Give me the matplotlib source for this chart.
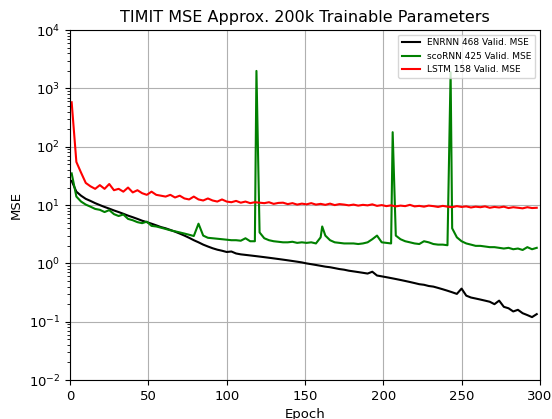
import numpy as np
import matplotlib
matplotlib.use("Agg")
import matplotlib.pyplot as plt

# epochs sampled every 3
epochs = list(range(1, 301, 3))

enrnn = [26, 17, 14.5, 12.8, 11.8, 10.8, 10.0, 9.3, 8.7, 8.1,
         7.6, 7.1, 6.6, 6.2, 5.8, 5.4, 5.1, 4.8, 4.5, 4.2,
         4.0, 3.75, 3.5, 3.25, 3.0, 2.75, 2.5, 2.3, 2.1, 1.95,
         1.82, 1.72, 1.65, 1.57, 1.6, 1.48, 1.43, 1.40, 1.37, 1.34,
         1.31, 1.28, 1.25, 1.22, 1.19, 1.16, 1.13, 1.10, 1.07, 1.04,
         1.0, 0.97, 0.94, 0.91, 0.88, 0.86, 0.83, 0.80, 0.78, 0.75,
         0.73, 0.71, 0.69, 0.67, 0.72, 0.62, 0.60, 0.58, 0.56, 0.54,
         0.52, 0.50, 0.48, 0.46, 0.44, 0.43, 0.41, 0.40, 0.38, 0.36,
         0.34, 0.32, 0.30, 0.37, 0.28, 0.26, 0.25, 0.24, 0.23, 0.22,
         0.20, 0.23, 0.18, 0.17, 0.15, 0.16, 0.14, 0.13, 0.12, 0.135]

scornn = [35, 14, 11.5, 10.2, 9.4, 8.6, 8.3, 7.6, 8.2, 7.0,
          6.5, 6.9, 5.8, 5.5, 5.1, 4.9, 5.2, 4.4, 4.3, 4.1,
          3.9, 3.7, 3.55, 3.4, 3.25, 3.1, 2.95, 4.8, 3.0, 2.75,
          2.7, 2.65, 2.6, 2.55, 2.5, 2.5, 2.45, 2.7, 2.4, 2.4,
          3.4, 2.7, 2.5, 2.4, 2.35, 2.3, 2.3, 2.35, 2.25, 2.3,
          2.25, 2.3, 2.2, 2.8, 3.0, 2.5, 2.3, 2.25, 2.2, 2.2,
          2.2, 2.15, 2.2, 2.3, 2.6, 3.0, 2.3, 2.25, 2.2, 3.0,
          2.6, 2.4, 2.3, 2.2, 2.15, 2.4, 2.3, 2.15, 2.1, 2.1,
          2.05, 4.0, 2.8, 2.4, 2.2, 2.1, 2.0, 2.0, 1.95, 1.9,
          1.9, 1.85, 1.8, 1.85, 1.75, 1.8, 1.7, 1.9, 1.75, 1.85]

# scoRNN spikes between the sampled epochs
spike_epochs = [119, 161, 206, 243]
spike_vals = [2000, 4.3, 178, 1900]

lstm = [580, 55, 36, 24, 21, 19, 22, 19, 23, 18,
        19, 17, 20, 16.5, 18, 16, 15, 17, 15, 14.5,
        14, 15, 13.5, 14.5, 13, 12.5, 14, 12.5, 12, 13,
        12, 11.5, 12.5, 11.5, 11.2, 11.8, 11, 11.5, 10.8, 11.2,
        11.0, 10.8, 11.2, 10.5, 10.9, 11.0, 10.4, 10.8, 10.2, 10.6,
        10.3, 10.8, 10.2, 10.5, 10.1, 10.6, 10.0, 10.4, 10.2, 9.9,
        10.2, 9.8, 10.1, 9.9, 10.3, 9.7, 10.0, 9.6, 9.9, 9.5,
        9.8, 9.6, 10.1, 9.5, 9.7, 9.4, 9.8, 9.6, 9.3, 9.7,
        9.4, 9.2, 9.6, 9.3, 9.5, 9.1, 9.4, 9.2, 9.5, 9.0,
        9.3, 9.1, 9.4, 8.9, 9.2, 9.0, 8.8, 9.2, 8.9, 9.0]

# merge spikes into scoRNN curve
sx = np.array(epochs + spike_epochs, dtype=float)
sy = np.array(scornn + spike_vals, dtype=float)
order = np.argsort(sx, kind="stable")
sx, sy = sx[order], sy[order]

fig = plt.figure(figsize=(5.52, 4.19), dpi=100)
ax = fig.add_axes([0.127, 0.093, 0.851, 0.835])

ax.plot(epochs, enrnn, color="black", lw=1.5, label="ENRNN 468 Valid. MSE")
ax.plot(sx, sy, color="green", lw=1.5, label="scoRNN 425 Valid. MSE")
ax.plot(epochs, lstm, color="red", lw=1.5, label="LSTM 158 Valid. MSE")

ax.set_yscale("log")
ax.set_xlim(0, 300)
ax.set_ylim(1e-2, 1e4)
ax.set_xticks([0, 50, 100, 150, 200, 250, 300])

ax.set_title("TIMIT MSE Approx. 200k Trainable Parameters", fontsize=11.5)
ax.set_xlabel("Epoch", fontsize=9.5)
ax.set_ylabel("MSE", fontsize=9.5)
ax.tick_params(labelsize=9.5)

ax.grid(True, which="major", color="#b0b0b0", lw=0.8)
ax.legend(loc="upper right", fontsize=6.5)

fig.savefig("out.png", dpi=100)
